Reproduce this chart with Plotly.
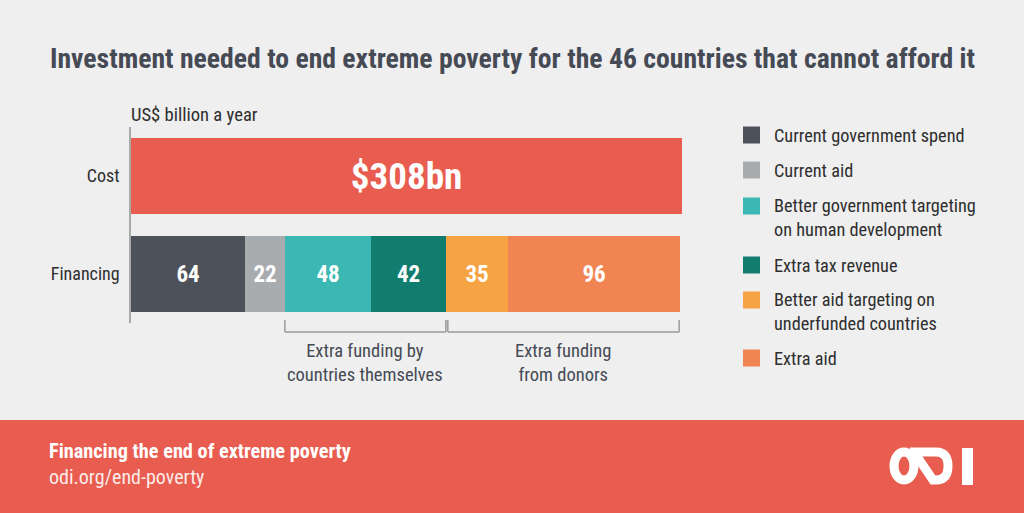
import plotly.graph_objects as go

# ---------------- data ----------------
categories = ["Cost", "Financing"]
total_cost = 308
series_names = [
    "Current government spend",
    "Current aid",
    "Better government targeting<br>on human development",
    "Extra tax revenue",
    "Better aid targeting on<br>underfunded countries",
    "Extra aid",
]
series_values = [64, 22, 48, 42, 35, 96]
series_colors = ["#4D515A", "#A9ACAF", "#3BB8B3", "#107D6E", "#F6A344", "#F08453"]
cost_color = "#E85D50"
group_labels = ["Extra funding by<br>countries themselves", "Extra funding<br>from donors"]
group_members = [[2, 3], [4, 5]]  # indices into series
unit_label = "US$ billion a year"
title_text = "Investment needed to end extreme poverty for the 46 countries that cannot afford it"
footer_title = "Financing the end of extreme poverty"
footer_url = "odi.org/end-poverty"

# ---------------- layout helpers ----------------
W, H = 1024, 513
L, R, T, B = 131, 682, 127, 323
BG = "#EFEFEF"
DARK = "#454A55"
TXT = "#2E2E2E"
FONT = "Roboto Condensed, Liberation Sans Narrow, Roboto, sans-serif"


def px(x):
    return (x - L) / (R - L)


def py(y):
    return (B - y) / (B - T)


fig = go.Figure()

# Cost bar
fig.add_trace(go.Bar(
    y=[categories[0]], x=[total_cost], orientation="h",
    marker=dict(color=cost_color, line=dict(width=0)),
    text=[f"${total_cost}bn"], textposition="inside", insidetextanchor="middle",
    textfont=dict(family=FONT, size=37, color="white", weight="bold"),
    width=0.78, showlegend=False, hoverinfo="skip",
))

# Financing stacked bars
for name, val, col in zip(series_names, series_values, series_colors):
    fig.add_trace(go.Bar(
        y=[categories[1]], x=[val], orientation="h", name=name,
        marker=dict(color=col, line=dict(width=0)),
        text=[str(val)], textposition="inside", insidetextanchor="middle",
        textfont=dict(family=FONT, size=23, color="white", weight="bold"),
        width=0.78, showlegend=False, hoverinfo="skip",
    ))

shapes = []
annotations = []

# Footer band
shapes.append(dict(type="rect", xref="paper", yref="paper",
                   x0=px(-2), x1=px(W + 2), y0=py(H + 2), y1=py(420),
                   fillcolor=cost_color, line=dict(width=0), layer="below"))

# Brackets beneath financing bar
cum = [0]
for v in series_values:
    cum.append(cum[-1] + v)
gap = 1.1
for gi, (members, lab) in enumerate(zip(group_members, group_labels)):
    x0 = cum[members[0]] + (gap if gi > 0 else 0)
    x1 = cum[members[-1] + 1] - (0.6 if gi > 0 else 0)
    ytop, ybot = py(320), py(332)
    lc = dict(color="#9A9A9A", width=1.5)
    shapes.append(dict(type="line", xref="x", yref="paper", x0=x0, x1=x0, y0=ytop, y1=ybot, line=lc))
    shapes.append(dict(type="line", xref="x", yref="paper", x0=x1, x1=x1, y0=ytop, y1=ybot, line=lc))
    shapes.append(dict(type="line", xref="x", yref="paper", x0=x0, x1=x1, y0=ybot, y1=ybot, line=lc))
    annotations.append(dict(xref="x", yref="paper", x=(x0 + x1) / 2, y=py(363),
                            text=lab, showarrow=False, xanchor="center", yanchor="middle",
                            align="center", font=dict(family=FONT, size=18.5, color=DARK)))

# Legend (manual)
legend_first_line_y = [135, 170, 206, 265, 300, 358]
for name, col, yc in zip(series_names, series_colors, legend_first_line_y):
    shapes.append(dict(type="rect", xref="paper", yref="paper",
                       x0=px(743), x1=px(760), y0=py(yc + 8.5), y1=py(yc - 8.5),
                       fillcolor=col, line=dict(width=0)))
    nlines = name.count("<br>") + 1
    annotations.append(dict(xref="paper", yref="paper", x=px(772), y=py(yc + (nlines - 1) * 11.5),
                            text=name, showarrow=False, xanchor="left", yanchor="middle",
                            align="left", font=dict(family=FONT, size=18.3, color=TXT)))

# Title
annotations.append(dict(xref="paper", yref="paper", x=px(512), y=py(58), text=f"<b>{title_text}</b>",
                        showarrow=False, xanchor="center", yanchor="middle",
                        font=dict(family=FONT, size=27.7, color=DARK)))
# Unit label
annotations.append(dict(xref="paper", yref="paper", x=px(129), y=py(115), text=unit_label,
                        showarrow=False, xanchor="left", yanchor="middle",
                        font=dict(family=FONT, size=18.6, color=TXT)))
# Footer texts
annotations.append(dict(xref="paper", yref="paper", x=px(47), y=py(451), text=f"<b>{footer_title}</b>",
                        showarrow=False, xanchor="left", yanchor="middle",
                        font=dict(family=FONT, size=20.3, color="white")))
annotations.append(dict(xref="paper", yref="paper", x=px(47), y=py(477), text=footer_url,
                        showarrow=False, xanchor="left", yanchor="middle",
                        font=dict(family=FONT, size=20, color="rgba(255,255,255,0.9)")))

# ODI logo (approximate, white strokes)
lw = 9
shapes.append(dict(type="circle", xref="paper", yref="paper",
                   x0=px(894), x1=px(914), y0=py(480), y1=py(452),
                   line=dict(color="white", width=lw), fillcolor="rgba(0,0,0,0)"))
d_path = (f"M {px(910)},{py(452)} L {px(936)},{py(452)} "
          f"Q {px(948)},{py(452)} {px(948)},{py(466)} "
          f"Q {px(948)},{py(480)} {px(936)},{py(480)} "
          f"L {px(933)},{py(480)} L {px(916)},{py(455)}")
shapes.append(dict(type="path", xref="paper", yref="paper", path=d_path,
                   line=dict(color="white", width=lw), fillcolor="rgba(0,0,0,0)"))
shapes.append(dict(type="rect", xref="paper", yref="paper",
                   x0=px(962), x1=px(973), y0=py(485), y1=py(448),
                   fillcolor="white", line=dict(width=0)))

fig.update_layout(
    width=W, height=H,
    margin=dict(l=L, r=W - R, t=T, b=H - B, pad=0),
    paper_bgcolor=BG, plot_bgcolor=BG,
    barmode="stack", bargap=0,
    showlegend=False,
    font=dict(family=FONT, color=TXT),
    xaxis=dict(range=[0, total_cost], showgrid=False, zeroline=False, showticklabels=False,
               showline=False, fixedrange=True),
    yaxis=dict(categoryorder="array", categoryarray=categories, autorange="reversed",
               showgrid=False, zeroline=False, showline=True, linecolor="#A8A8A8", linewidth=1.5,
               ticks="", ticklabelstandoff=6,
               tickfont=dict(family=FONT, size=18, color=TXT), fixedrange=True),
    shapes=shapes,
    annotations=annotations,
)

fig.write_html("out.html", config={"displayModeBar": False},
               post_script="document.body.style.margin='0';document.body.style.background='#EFEFEF';")
